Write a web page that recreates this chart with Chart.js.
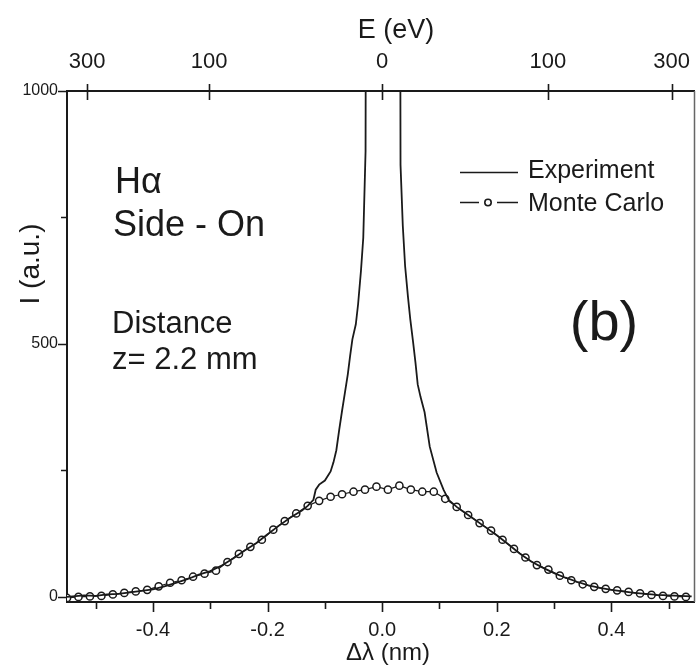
<!DOCTYPE html>
<html>
<head>
<meta charset="utf-8">
<script src="https://cdn.jsdelivr.net/npm/chart.js@4.4.1/dist/chart.umd.min.js"></script>
<style>
  body { margin: 0; background: #fff; }
  #wrap { width: 700px; height: 671px; }
</style>
</head>
<body>
<div id="wrap"><canvas id="chart" width="700" height="671"></canvas></div>
<script>
// Monte Carlo profile, one point every 0.02 nm
const mcShift = [
  -0.55, -0.53, -0.51, -0.49, -0.47, -0.45, -0.43, -0.41, -0.39, -0.37,
  -0.35, -0.33, -0.31, -0.29, -0.27, -0.25, -0.23, -0.21, -0.19, -0.17,
  -0.15, -0.13, -0.11, -0.09, -0.07, -0.05, -0.03, -0.01, 0.01, 0.03,
  0.05, 0.07, 0.09, 0.11, 0.13, 0.15, 0.17, 0.19, 0.21, 0.23,
  0.25, 0.27, 0.29, 0.31, 0.33, 0.35, 0.37, 0.39, 0.41, 0.43,
  0.45, 0.47, 0.49, 0.51, 0.53
];
const mcIntensity = [
  -2, 0, 1, 2, 5, 8, 11, 14, 21, 28,
  33, 40, 46, 52, 69, 85, 99, 113, 133, 150,
  165, 180, 190, 198, 203, 208, 212, 218, 212, 220,
  212, 208, 208, 194, 178, 162, 146, 131, 113, 95,
  78, 63, 54, 42, 33, 25, 20, 16, 13, 10,
  7, 4, 2, 1, 0
];

// measured line profile (peak runs off the top of the frame)
const expShift = [
  -0.55, -0.54, -0.52, -0.50, -0.48, -0.46, -0.44, -0.42, -0.40, -0.38,
  -0.36, -0.34, -0.32, -0.30, -0.28, -0.26, -0.24, -0.22, -0.20, -0.18,
  -0.16, -0.14, -0.13, -0.12, -0.116, -0.11, -0.10, -0.09, -0.085, -0.08,
  -0.075, -0.07, -0.065, -0.06, -0.056, -0.052, -0.046, -0.042, -0.037, -0.033,
  -0.029, -0.028, -0.015, 0.0, 0.015, 0.031, 0.032, 0.036, 0.040, 0.045,
  0.049, 0.054, 0.058, 0.062, 0.067, 0.074, 0.083, 0.095, 0.107, 0.116,
  0.13, 0.14, 0.16, 0.18, 0.20, 0.22, 0.24, 0.26, 0.28, 0.30,
  0.32, 0.34, 0.36, 0.38, 0.40, 0.42, 0.44, 0.46, 0.48, 0.50,
  0.52, 0.54
];
const expIntensity = [
  0, 1, 3, 2, 5, 6, 9, 12, 15, 21,
  28, 35, 44, 51, 62, 76, 92, 106, 124, 141,
  157, 171, 180, 192, 212, 222, 230, 248, 266, 290,
  330, 368, 404, 440, 476, 509, 539, 579, 645, 710,
  881, 1500, 3000, 3600, 3200, 1500, 854, 733, 654, 593,
  549, 503, 464, 420, 395, 365, 297, 246, 212, 192,
  178, 170, 154, 138, 122, 104, 86, 70, 58, 47,
  38, 30, 23, 18, 14, 11, 8, 6, 4, 3,
  2, 1
];

// axis ticks
const shiftTicks = [-0.5, -0.4, -0.3, -0.2, -0.1, 0, 0.1, 0.2, 0.3, 0.4, 0.5];
const shiftMajor = [-0.4, -0.2, 0, 0.2, 0.4];
const intensityTicks = [0, 250, 500, 750, 1000];
const intensityMajor = [0, 500, 1000];
const energyLabels = ['300', '100', '0', '100', '300'];
const energyAt = [-0.515, -0.302, 0, 0.289, 0.505];

const FONT = '"Liberation Sans", Arial, sans-serif';
const INK = '#1a1a1a';
Chart.defaults.font.family = FONT;
Chart.defaults.color = INK;

function toPoints(xs, ys) {
  return xs.map((x, i) => ({ x: x, y: ys[i] }));
}

// tick marks, frame, annotations and legend
const decorations = {
  id: 'decorations',
  afterDraw(chart) {
    const ctx = chart.ctx;
    const area = chart.chartArea;
    const xs = chart.scales.x, ys = chart.scales.y, xt = chart.scales.xTop;
    ctx.save();
    ctx.strokeStyle = INK;
    ctx.lineWidth = 1.6;
    ctx.beginPath();
    shiftTicks.forEach(v => {
      const px = Math.round(xs.getPixelForValue(v)) + 0.5;
      const len = shiftMajor.includes(v) ? 10 : 7;
      ctx.moveTo(px, area.bottom);
      ctx.lineTo(px, area.bottom + len);
    });
    intensityTicks.forEach(v => {
      const py = Math.round(ys.getPixelForValue(v)) + 0.5;
      const len = intensityMajor.includes(v) ? 9 : 6;
      ctx.moveTo(area.left, py);
      ctx.lineTo(area.left - len, py);
    });
    energyAt.forEach(v => {
      const px = Math.round(xt.getPixelForValue(v)) + 0.5;
      ctx.moveTo(px, area.top - 7);
      ctx.lineTo(px, area.top + 9);
    });
    ctx.stroke();

    // right edge of the frame
    ctx.strokeStyle = '#666';
    ctx.lineWidth = 1.5;
    ctx.beginPath();
    ctx.moveTo(area.right, area.top);
    ctx.lineTo(area.right, area.bottom);
    ctx.stroke();

    ctx.fillStyle = INK;
    ctx.textAlign = 'left';
    ctx.textBaseline = 'alphabetic';
    ctx.font = '36px ' + FONT;
    ctx.fillText('H\u03b1', 115, 193);
    ctx.fillText('Side - On', 113, 236);
    ctx.font = '31px ' + FONT;
    ctx.fillText('Distance', 112, 333);
    ctx.fillText('z= 2.2 mm', 112, 369);
    ctx.font = '56px ' + FONT;
    ctx.textAlign = 'center';
    ctx.fillText('(b)', 604, 340);

    // axis titles
    ctx.textBaseline = 'middle';
    ctx.font = '27px ' + FONT;
    ctx.fillText('E (eV)', 396, 31);
    ctx.font = '24px ' + FONT;
    ctx.fillText('\u0394\u03bb (nm)', 388, 653);
    ctx.save();
    ctx.translate(31, 264);
    ctx.rotate(-Math.PI / 2);
    ctx.font = '28px ' + FONT;
    ctx.fillText('I (a.u.)', 0, 0);
    ctx.restore();

    // legend
    ctx.textAlign = 'left';
    ctx.textBaseline = 'alphabetic';
    ctx.font = '25px ' + FONT;
    ctx.fillText('Experiment', 528, 178);
    ctx.fillText('Monte Carlo', 528, 211);
    ctx.strokeStyle = INK;
    ctx.lineWidth = 1.6;
    ctx.beginPath();
    ctx.moveTo(460, 172.5); ctx.lineTo(518, 172.5);
    ctx.moveTo(460, 202.5); ctx.lineTo(479, 202.5);
    ctx.moveTo(497, 202.5); ctx.lineTo(518, 202.5);
    ctx.stroke();
    ctx.beginPath();
    ctx.arc(488, 202.5, 3.2, 0, Math.PI * 2);
    ctx.fillStyle = '#fff';
    ctx.fill();
    ctx.stroke();
    ctx.restore();
  }
};

new Chart(document.getElementById('chart'), {
  type: 'line',
  data: {
    datasets: [
      {
        label: 'Experiment',
        data: toPoints(expShift, expIntensity),
        borderColor: INK,
        borderWidth: 1.8,
        pointRadius: 0,
        tension: 0,
        xAxisID: 'x',
        yAxisID: 'y'
      },
      {
        label: 'Monte Carlo',
        data: toPoints(mcShift, mcIntensity),
        borderColor: INK,
        borderWidth: 1.2,
        pointRadius: 3.6,
        pointBorderWidth: 1.5,
        pointBackgroundColor: '#fff',
        pointBorderColor: INK,
        tension: 0,
        xAxisID: 'x',
        yAxisID: 'y'
      }
    ]
  },
  options: {
    responsive: false,
    animation: false,
    layout: { padding: { left: 0, right: 1, top: 0, bottom: 0 } },
    plugins: { legend: { display: false }, tooltip: { enabled: false } },
    scales: {
      x: {
        type: 'linear',
        position: 'bottom',
        min: -0.55,
        max: 0.545,
        afterBuildTicks: s => { s.ticks = shiftTicks.map(v => ({ value: v })); },
        afterFit: s => { s.height = 69; },
        grid: { display: false, drawTicks: true, tickLength: 8 },
        border: { display: true, width: 2, color: INK },
        ticks: {
          autoSkip: false, maxRotation: 0, minRotation: 0, padding: 8,
          font: { size: 20 },
          callback: v => shiftMajor.includes(v) ? v.toFixed(1) : ''
        }
      },
      xTop: {
        type: 'linear',
        position: 'top',
        min: -0.55,
        max: 0.545,
        afterBuildTicks: s => { s.ticks = energyAt.map(v => ({ value: v })); },
        afterFit: s => { s.height = 91; },
        grid: { display: false, drawTicks: true, tickLength: 8 },
        border: { display: true, width: 2, color: INK },
        ticks: {
          autoSkip: false, maxRotation: 0, minRotation: 0, padding: 8,
          font: { size: 22 },
          callback: (v, i) => energyLabels[i]
        }
      },
      y: {
        type: 'linear',
        position: 'left',
        min: -10,
        max: 1000,
        afterBuildTicks: s => { s.ticks = intensityTicks.map(v => ({ value: v })); },
        afterFit: s => { s.width = 67; },
        grid: { display: false, drawTicks: true, tickLength: 8 },
        border: { display: true, width: 2, color: INK },
        ticks: {
          autoSkip: false, padding: 1,
          font: { size: 16 },
          callback: v => intensityMajor.includes(v) ? String(v) : ''
        }
      }
    }
  },
  plugins: [decorations]
});
</script>
</body>
</html>
